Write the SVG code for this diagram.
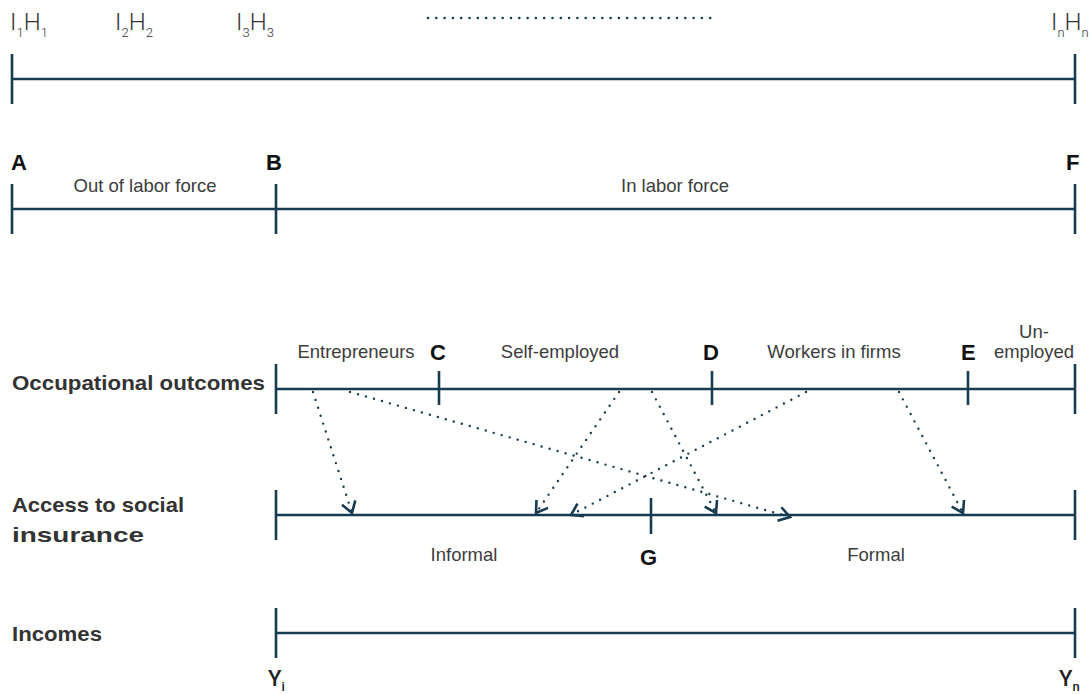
<svg xmlns="http://www.w3.org/2000/svg" width="1089" height="694" viewBox="0 0 1089 694">
  <defs>
    <style>
      .axis { stroke: #173b50; stroke-width: 2.6; fill: none; }
      .dots { stroke: #173b50; stroke-width: 2.6; fill: none; stroke-linecap: round; stroke-dasharray: 0 8.3; }
      .link { stroke: #173b50; stroke-width: 2.4; fill: none; stroke-linecap: round; stroke-dasharray: 0 8.3; marker-end: url(#chev); }
      .lbl { font-family: "Liberation Sans", Arial, sans-serif; font-size: 18.5px; fill: #3c3c3c; }
      .head { font-family: "Liberation Sans", Arial, sans-serif; font-size: 21px; font-weight: bold; fill: #333333; }
      .pt { font-family: "Liberation Sans", Arial, sans-serif; font-size: 22px; font-weight: bold; fill: #111111; }
      .ih { font-family: Roboto, "Liberation Sans", sans-serif; font-weight: 300; font-size: 24px; fill: #333333; }
      .sub { font-size: 13px; }
      .y { font-family: Roboto, "Liberation Sans", sans-serif; font-weight: 500; font-size: 22px; fill: #222222; }
    </style>
    <marker id="chev" markerUnits="userSpaceOnUse" markerWidth="30" markerHeight="30" refX="15" refY="15" orient="auto" overflow="visible">
      <path d="M4,8 L15,15 L4,22" stroke="#173b50" stroke-width="2.6" fill="none" stroke-linecap="butt" stroke-linejoin="miter"/>
    </marker>
  </defs>

  <!-- individual / household scale -->
  <g id="individuals">
    <text class="ih" x="10" y="30">I<tspan class="sub" dy="7">1</tspan><tspan dy="-7">H</tspan><tspan class="sub" dy="7">1</tspan></text>
    <text class="ih" x="115" y="30">I<tspan class="sub" dy="7">2</tspan><tspan dy="-7">H</tspan><tspan class="sub" dy="7">2</tspan></text>
    <text class="ih" x="236" y="30">I<tspan class="sub" dy="7">3</tspan><tspan dy="-7">H</tspan><tspan class="sub" dy="7">3</tspan></text>
    <text class="ih" x="1051" y="30">I<tspan class="sub" dy="7">n</tspan><tspan dy="-7">H</tspan><tspan class="sub" dy="7">n</tspan></text>
    <line class="dots" x1="428" y1="18" x2="712" y2="18"/>
    <path class="axis" d="M12,79 H1075 M12,54 V104 M1075,54 V104"/>
  </g>

  <!-- labor force split -->
  <g id="labor-force">
    <text class="pt" x="11" y="170">A</text>
    <text class="pt" x="266" y="170">B</text>
    <text class="pt" x="1066" y="170">F</text>
    <text class="lbl" x="145" y="192" text-anchor="middle">Out of labor force</text>
    <text class="lbl" x="675" y="192" text-anchor="middle">In labor force</text>
    <path class="axis" d="M12,209 H1075 M12,184 V234 M276,184 V234 M1075,184 V234"/>
  </g>

  <!-- occupational outcomes -->
  <g id="occupations">
    <text class="head" x="12" y="390" textLength="253" lengthAdjust="spacingAndGlyphs">Occupational outcomes</text>
    <text class="lbl" x="356" y="358" text-anchor="middle">Entrepreneurs</text>
    <text class="pt" x="430" y="360">C</text>
    <text class="lbl" x="560" y="358" text-anchor="middle">Self-employed</text>
    <text class="pt" x="703" y="360">D</text>
    <text class="lbl" x="834" y="358" text-anchor="middle">Workers in firms</text>
    <text class="pt" x="961" y="360">E</text>
    <text class="lbl" x="1034" y="338" text-anchor="middle">Un-</text>
    <text class="lbl" x="1034" y="358" text-anchor="middle">employed</text>
    <path class="axis" d="M276,389 H1075 M276,364 V414 M439,371 V405 M712,371 V405 M968,371 V405 M1075,364 V414"/>
  </g>

  <!-- access to social insurance -->
  <g id="social-insurance">
    <text class="head" x="12" y="512" textLength="172" lengthAdjust="spacingAndGlyphs">Access to social</text>
    <text class="head" x="12" y="542" textLength="132" lengthAdjust="spacingAndGlyphs">insurance</text>
    <text class="lbl" x="464" y="561" text-anchor="middle">Informal</text>
    <text class="pt" x="640" y="565">G</text>
    <text class="lbl" x="876" y="561" text-anchor="middle">Formal</text>
    <path class="axis" d="M276,515 H1075 M276,490 V540 M651,498 V534 M1075,490 V540"/>
  </g>

  <!-- incomes -->
  <g id="incomes">
    <text class="head" x="12" y="641" textLength="90" lengthAdjust="spacingAndGlyphs">Incomes</text>
    <path class="axis" d="M276,633 H1075 M276,608 V658 M1075,608 V658"/>
    <text class="y" x="268" y="686">Y<tspan class="sub" dy="5">i</tspan></text>
    <text class="y" x="1059" y="686">Y<tspan class="sub" dy="5">n</tspan></text>
  </g>

  <!-- transitions from occupation to insurance status -->
  <g id="connectors">
    <line class="link" x1="313" y1="392" x2="352" y2="513"/>
    <line class="link" x1="350" y1="392" x2="790" y2="517"/>
    <line class="link" x1="619" y1="392" x2="536" y2="513"/>
    <line class="link" x1="652" y1="392" x2="716" y2="513"/>
    <line class="link" x1="806" y1="392" x2="571" y2="515"/>
    <line class="link" x1="899" y1="392" x2="963" y2="513"/>
  </g>
</svg>
